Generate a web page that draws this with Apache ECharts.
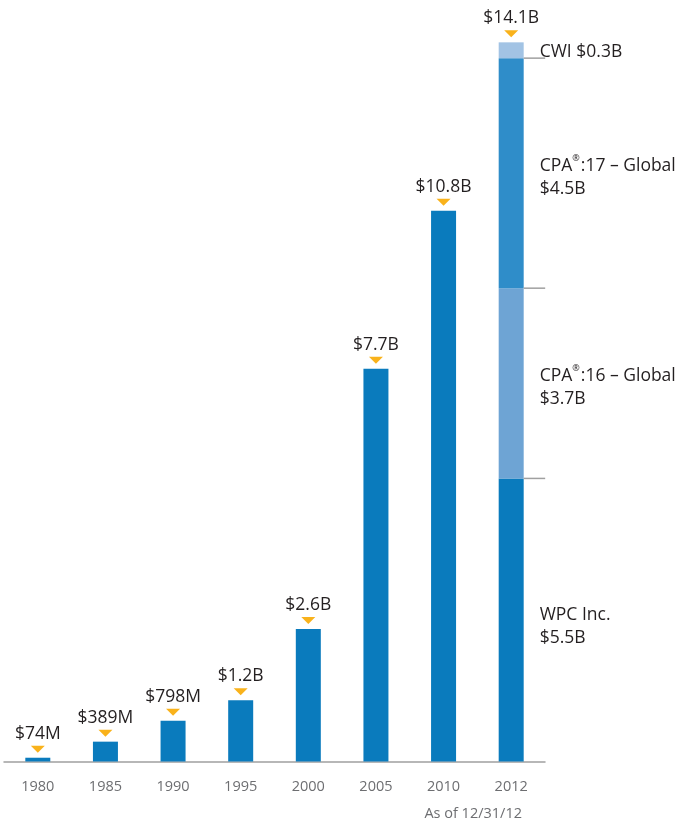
<!DOCTYPE html>
<html>
<head>
<meta charset="utf-8">
<script src="https://cdn.jsdelivr.net/npm/echarts@6/dist/echarts.min.js"></script>
<style>html,body{margin:0;padding:0;background:#fff}#c{width:677px;height:823px}</style>
</head>
<body>
<div id="c"></div>
<script>
// ---- data ----
const years = ['1980','1985','1990','1995','2000','2005','2010','2012'];
const baseValues = [0.074, 0.389, 0.798, 1.2, 2.6, 7.7, 10.8, 5.55]; // $B; 2012 = WPC Inc.
const cpa16 = ['-','-','-','-','-','-','-', 3.73];
const cpa17 = ['-','-','-','-','-','-','-', 4.51];
const cwi   = ['-','-','-','-','-','-','-', 0.31];
const totals = [0.074, 0.389, 0.798, 1.2, 2.6, 7.7, 10.8, 14.1];
const totalLabels = ['$74M','$389M','$798M','$1.2B','$2.6B','$7.7B','$10.8B','$14.1B'];
const segLabels = {
  wpc: ['WPC Inc.', '$5.5B'],
  cpa16: ['CPA', '®', ':16 – Global', '$3.7B'],
  cpa17: ['CPA', '®', ':17 – Global', '$4.5B'],
  cwi: ['CWI $0.3B']
};
const footnote = 'As of 12/31/12';

// ---- chart ----
const FONT = '"Open Sans", "Noto Sans", sans-serif';
const chart = echarts.init(document.getElementById('c'));
const last = years.length - 1;
const b1 = baseValues[last];
const b2 = b1 + cpa16[last];
const b3 = b2 + cpa17[last];
const boundaries = [[last, b1], [last, b2], [last, b3]];

const rich = {
  t: {fontFamily: FONT, fontSize: 17.5, color: '#231f20', lineHeight: 23},
  s: {fontFamily: FONT, fontSize: 9, color: '#231f20', verticalAlign: 'top', lineHeight: 23, padding: [0,1,7,0]}
};
function segLabel(fmt, dy) {
  return {show: true, position: 'right', distance: 16, offset: [0, dy], formatter: fmt, rich: rich};
}

chart.setOption({
  animation: false,
  title: {
    text: footnote, right: 150, top: 801,
    textStyle: {fontFamily: FONT, fontSize: 14.5, fontWeight: 'normal', color: '#6d6e71'}
  },
  grid: {left: 4, right: 132, top: 0, bottom: 61.5},
  xAxis: {
    type: 'category', data: years,
    axisLine: {lineStyle: {color: '#a0a0a0', width: 1.5}},
    axisTick: {show: false},
    axisLabel: {fontFamily: FONT, fontSize: 14.5, color: '#6d6e71', margin: 18}
  },
  yAxis: {type: 'value', min: 0, max: 14.93, show: false, splitLine: {show: false}},
  series: [
    {
      type: 'bar', stack: 'a', barWidth: 25, data: baseValues,
      itemStyle: {color: '#0a7bbd'},
      label: {
        show: true, position: 'right', distance: 16, offset: [0, 7], rich: rich,
        formatter: p => p.dataIndex === last ? '{t|' + segLabels.wpc[0] + '}\n{t|' + segLabels.wpc[1] + '}' : ''
      }
    },
    {
      type: 'bar', stack: 'a', barWidth: 25, data: cpa16,
      itemStyle: {color: '#6ea4d4'},
      label: segLabel(() => '{t|' + segLabels.cpa16[0] + '}{s|' + segLabels.cpa16[1] + '}{t|' + segLabels.cpa16[2] + '}\n{t|' + segLabels.cpa16[3] + '}', 4)
    },
    {
      type: 'bar', stack: 'a', barWidth: 25, data: cpa17,
      itemStyle: {color: '#2f8dc9'},
      label: segLabel(() => '{t|' + segLabels.cpa17[0] + '}{s|' + segLabels.cpa17[1] + '}{t|' + segLabels.cpa17[2] + '}\n{t|' + segLabels.cpa17[3] + '}', 4)
    },
    {
      type: 'bar', stack: 'a', barWidth: 25, data: cwi,
      itemStyle: {color: '#a2c3e4'},
      label: segLabel(() => '{t|' + segLabels.cwi[0] + '}', 2)
    },
    {
      type: 'scatter', data: totals, z: 5,
      symbol: 'triangle', symbolRotate: 180, symbolSize: [14, 7], symbolOffset: [0, -8.5],
      itemStyle: {color: '#f9b21b', opacity: 1},
      label: {
        show: true, position: 'top', distance: 3,
        fontFamily: FONT, fontSize: 17.5, color: '#231f20',
        formatter: p => totalLabels[p.dataIndex]
      }
    },
    {
      type: 'custom', data: boundaries, z: 6,
      renderItem: (params, api) => {
        const p = api.coord([api.value(0), api.value(1)]);
        return {type: 'line', shape: {x1: p[0] + 12.5, y1: p[1], x2: p[0] + 34, y2: p[1]},
                style: {stroke: '#a0a0a0', lineWidth: 1.5}};
      }
    }
  ]
});
</script>
</body>
</html>
